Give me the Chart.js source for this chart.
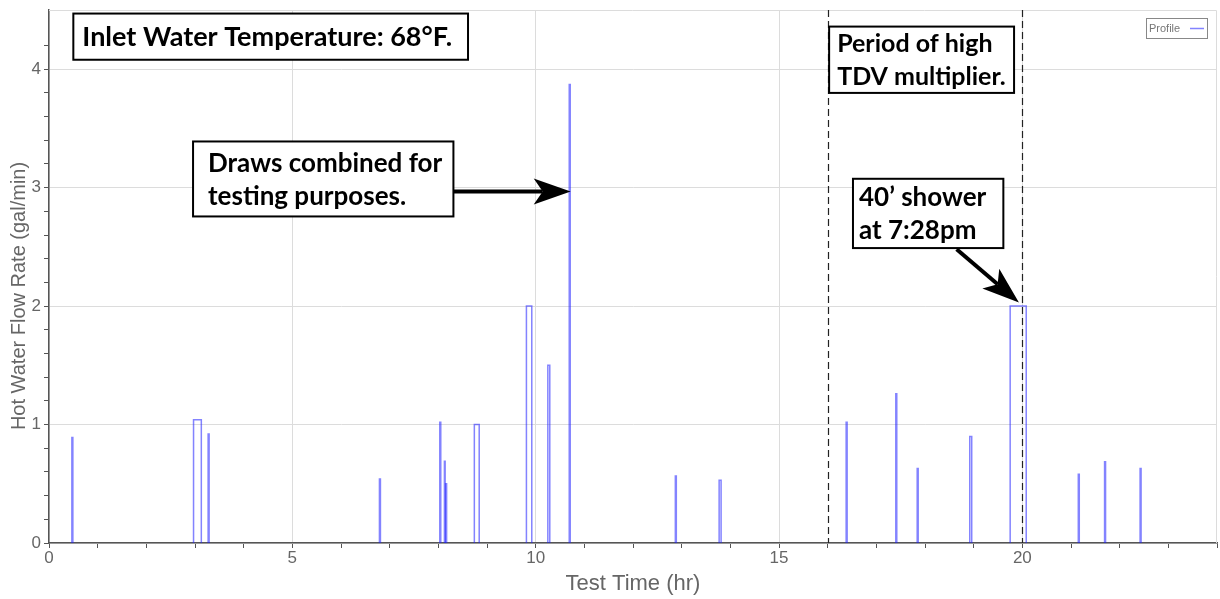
<!DOCTYPE html>
<html>
<head>
<meta charset="utf-8">
<script src="https://cdn.jsdelivr.net/npm/chart.js@4/dist/chart.umd.min.js"></script>
<style>
  html, body { margin: 0; padding: 0; background: #fff; }
  #wrap { width: 1220px; height: 599px; }
</style>
</head>
<body>
<div id="wrap"><canvas id="flowChart" width="1220" height="599"></canvas></div>
<script>
// Hot water draws: start (hr), end (hr), flow rate (gal/min)
const drawStart = [0.47, 2.97, 3.27, 6.79, 8.03, 8.125, 8.15, 8.74, 9.81, 10.25, 10.69, 12.87, 13.77, 16.38, 17.40, 17.84, 18.92, 19.75, 21.15, 21.69, 22.42];
const drawEnd   = [0.49, 3.13, 3.29, 6.81, 8.05, 8.14, 8.17, 8.84, 9.92, 10.29, 10.71, 12.89, 13.81, 16.40, 17.42, 17.86, 18.96, 20.08, 21.17, 21.71, 22.44];
const drawFlow  = [0.89, 1.04, 0.92, 0.54, 1.02, 0.69, 0.50, 1.00, 2.00, 1.50, 3.87, 0.565, 0.53, 1.02, 1.26, 0.63, 0.90, 2.00, 0.58, 0.685, 0.63];

// High TDV period markers (hr)
const tdvMarkers = [16, 20];

// Annotation text boxes, corners in data units (hr, gal/min)
const noteBoxes = [
    { lines: ['Inlet Water Temperature: 68\u00B0F.'], x0: 0.50, x1: 8.61, y0: 4.47, y1: 4.08, pad: 9, size: 27 },
    { lines: ['Draws combined for', 'testing purposes.'], x0: 2.96, x1: 8.31, y0: 3.39, y1: 2.757, pad: 15, size: 26 },
    { lines: ['Period of high', 'TDV multiplier.'], x0: 16.03, x1: 19.83, y0: 4.36, y1: 3.80, pad: 8, size: 25 },
    { lines: ['40\u2019 shower', 'at 7:28pm'], x0: 16.52, x1: 19.61, y0: 3.075, y1: 2.49, pad: 6, size: 26 },
];
const noteArrows = [
    { from: [8.31, 2.968], to: [10.72, 2.968] },
    { from: [18.65, 2.48], to: [19.93, 2.03] },
];

const BLUE = 'rgba(30,30,255,0.55)';

const points = [];
drawStart.forEach((s, i) => {
    points.push({ x: s, y: 0 }, { x: s, y: drawFlow[i] }, { x: drawEnd[i], y: drawFlow[i] }, { x: drawEnd[i], y: 0 });
});

const isInt = (v) => Math.abs(v - Math.round(v)) < 1e-6;

const drawArrow = (ctx, x0, y0, x1, y1) => {
    const ang = Math.atan2(y1 - y0, x1 - x0);
    const headLen = 37, headW = 13, notch = 9;
    ctx.save();
    ctx.translate(x1, y1);
    ctx.rotate(ang);
    const len = Math.hypot(x1 - x0, y1 - y0);
    ctx.strokeStyle = '#000';
    ctx.lineWidth = 4;
    ctx.beginPath();
    ctx.moveTo(-len, 0);
    ctx.lineTo(-headLen + notch, 0);
    ctx.stroke();
    ctx.fillStyle = '#000';
    ctx.beginPath();
    ctx.moveTo(0, 0);
    ctx.lineTo(-headLen, -headW);
    ctx.lineTo(-headLen + notch, 0);
    ctx.lineTo(-headLen, headW);
    ctx.closePath();
    ctx.fill();
    ctx.restore();
};

const annotations = {
    id: 'annotations',
    beforeDatasetsDraw(chart) {
        const { ctx, chartArea: a } = chart;
        ctx.save();
        ctx.strokeStyle = '#dcdcdc';
        ctx.lineWidth = 1;
        ctx.beginPath();
        ctx.moveTo(a.left, a.top + 0.5);
        ctx.lineTo(a.right - 0.5, a.top + 0.5);
        ctx.lineTo(a.right - 0.5, a.bottom);
        ctx.stroke();
        ctx.restore();
    },
    afterDatasetsDraw(chart) {
        const { ctx, chartArea: a, scales: { x } } = chart;
        ctx.save();
        ctx.strokeStyle = '#222';
        ctx.lineWidth = 1.2;
        ctx.setLineDash([7, 4]);
        tdvMarkers.forEach((t) => {
            const px = Math.round(x.getPixelForValue(t)) + 0.5;
            ctx.beginPath();
            ctx.moveTo(px, a.top);
            ctx.lineTo(px, a.bottom);
            ctx.stroke();
        });
        ctx.restore();
    },
    afterDraw(chart) {
        const { ctx, chartArea: a, scales: { x, y } } = chart;
        ctx.save();

        // text boxes
        noteBoxes.forEach((b) => {
            const l = x.getPixelForValue(b.x0), r = x.getPixelForValue(b.x1);
            const t = y.getPixelForValue(b.y0), btm = y.getPixelForValue(b.y1);
            ctx.fillStyle = '#fff';
            ctx.fillRect(l, t, r - l, btm - t);
            ctx.strokeStyle = '#000';
            ctx.lineWidth = 2;
            ctx.strokeRect(l, t, r - l, btm - t);
            ctx.fillStyle = '#000';
            ctx.font = `bold ${b.size}px Lato, "Open Sans", sans-serif`;
            ctx.textBaseline = 'middle';
            const lh = 33;
            const mid = (t + btm) / 2 + 1;
            b.lines.forEach((txt, i) => {
                ctx.fillText(txt, l + b.pad, mid + (i - (b.lines.length - 1) / 2) * lh);
            });
        });

        noteArrows.forEach((ar) => {
            drawArrow(ctx,
                x.getPixelForValue(ar.from[0]), y.getPixelForValue(ar.from[1]),
                x.getPixelForValue(ar.to[0]), y.getPixelForValue(ar.to[1]));
        });

        // legend
        const lx = a.right - 71, ly = a.top + 8;
        ctx.fillStyle = '#fff';
        ctx.fillRect(lx, ly, 61, 20);
        ctx.strokeStyle = '#888';
        ctx.lineWidth = 1;
        ctx.strokeRect(lx + 0.5, ly + 0.5, 61, 20);
        ctx.fillStyle = '#777';
        ctx.font = '11px "Liberation Sans", Arial, sans-serif';
        ctx.textBaseline = 'middle';
        ctx.fillText('Profile', lx + 3, ly + 10.5);
        ctx.strokeStyle = BLUE;
        ctx.lineWidth = 1.5;
        ctx.beginPath();
        ctx.moveTo(lx + 44, ly + 10.5);
        ctx.lineTo(lx + 58, ly + 10.5);
        ctx.stroke();

        // axis titles
        ctx.fillStyle = '#666';
        ctx.textAlign = 'center';
        ctx.textBaseline = 'middle';
        ctx.font = '22px "Liberation Sans", Arial, sans-serif';
        ctx.fillText('Test Time (hr)', (a.left + a.right) / 2, 584);
        ctx.font = '20px "Liberation Sans", Arial, sans-serif';
        ctx.translate(19, 296);
        ctx.rotate(-Math.PI / 2);
        ctx.fillText('Hot Water Flow Rate (gal/min)', 0, 0);
        ctx.restore();
    },
};

const tickFont = { family: '"Liberation Sans", Arial, sans-serif', size: 17 };

new Chart(document.getElementById('flowChart').getContext('2d'), {
    type: 'line',
    data: {
        datasets: [{
            label: 'Profile',
            data: points,
            borderColor: BLUE,
            borderWidth: 1.5,
            pointRadius: 0,
            fill: false,
            tension: 0,
            segment: {
                borderColor: (c) => (c.p0.parsed.y === 0 && c.p1.parsed.y === 0) ? 'rgba(0,0,0,0)' : BLUE,
            },
        }],
    },
    options: {
        responsive: false,
        animation: false,
        layout: { padding: { top: 10, right: 3, left: 0, bottom: 0 } },
        plugins: { legend: { display: false }, tooltip: { enabled: false } },
        scales: {
            x: {
                type: 'linear',
                min: 0, max: 24,
                afterFit: (s) => { s.height = 56; s.paddingLeft = 0; s.paddingRight = 0; },
                grid: {
                    color: (c) => (c.tick && c.tick.value % 5 === 0) ? '#dcdcdc' : 'rgba(0,0,0,0)',
                    tickColor: '#555',
                    tickLength: 5,
                },
                border: { color: '#555', width: 1.5 },
                ticks: {
                    stepSize: 1,
                    autoSkip: false,
                    maxRotation: 0,
                    padding: 0,
                    color: '#666',
                    font: tickFont,
                    callback: (v) => (v % 5 === 0 ? v : ''),
                },
            },
            y: {
                min: 0, max: 4.5,
                afterFit: (s) => { s.width = 49; s.paddingTop = 0; s.paddingBottom = 0; },
                grid: {
                    color: (c) => (c.tick && isInt(c.tick.value) && c.tick.value < 4.5) ? '#dcdcdc' : 'rgba(0,0,0,0)',
                    tickColor: (c) => (c.tick && c.tick.value > 4.45) ? 'rgba(0,0,0,0)' : '#555',
                    tickLength: 5,
                },
                border: { color: '#555', width: 1.5 },
                ticks: {
                    stepSize: 0.2,
                    autoSkip: false,
                    padding: 3,
                    color: '#666',
                    font: tickFont,
                    callback: (v) => (isInt(v) && v < 4.5 ? Math.round(v) : ''),
                },
            },
        },
    },
    plugins: [annotations],
});
</script>
</body>
</html>
